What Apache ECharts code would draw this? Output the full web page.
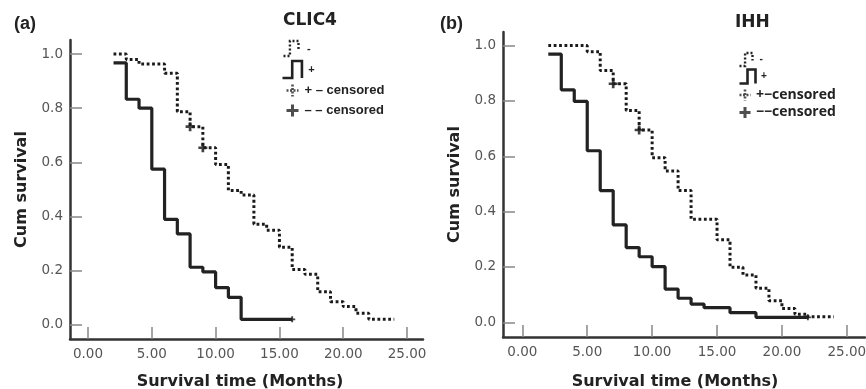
<!DOCTYPE html>
<html>
<head>
<meta charset="utf-8">
<script src="https://cdn.jsdelivr.net/npm/echarts@6/dist/echarts.min.js"></script>
<style>html,body{margin:0;padding:0;background:#fff}#c{width:866px;height:389px}</style>
</head>
<body>
<div id="c"></div>
<script>
// ---- data ----
const xTicks = [0, 5, 10, 15, 20, 25];
const yTicks = [0, 0.2, 0.4, 0.6, 0.8, 1.0];

// Panel (a) CLIC4
const timeA_neg = [2, 3, 4, 6, 7, 8, 9, 10, 11, 12, 13, 14, 15, 16, 17, 18, 19, 20, 21, 22, 24];
const survA_neg = [1.0, 0.98, 0.963, 0.929, 0.787, 0.732, 0.654, 0.592, 0.496, 0.48, 0.372, 0.35, 0.287, 0.205, 0.187, 0.123, 0.086, 0.068, 0.043, 0.021, 0.021];
const timeA_pos = [2, 3, 4, 5, 6, 7, 8, 9, 10, 11, 12, 16];
const survA_pos = [0.967, 0.833, 0.80, 0.575, 0.39, 0.336, 0.213, 0.196, 0.138, 0.102, 0.021, 0.021];
const censA_negT = [8, 9];
const censA_negS = [0.732, 0.654];
const censA_posT = [16];
const censA_posS = [0.021];

// Panel (b) IHH
const timeB_neg = [2, 5, 6, 7, 8, 9, 10, 11, 12, 13, 15, 16, 17, 18, 19, 20, 21, 22, 24];
const survB_neg = [1.0, 0.978, 0.91, 0.862, 0.765, 0.695, 0.595, 0.547, 0.476, 0.372, 0.298, 0.199, 0.171, 0.123, 0.078, 0.05, 0.029, 0.02, 0.02];
const timeB_pos = [2, 3, 4, 5, 6, 7, 8, 9, 10, 11, 12, 13, 14, 16, 18, 22];
const survB_pos = [0.969, 0.84, 0.798, 0.62, 0.476, 0.352, 0.27, 0.237, 0.201, 0.12, 0.087, 0.066, 0.053, 0.035, 0.018, 0.018];
const censB_negT = [7, 9];
const censB_negS = [0.862, 0.695];
const censB_posT = [22];
const censB_posS = [0.018];

// ---- chart ----
const zip = (t, s) => t.map((v, i) => [v, s[i]]);
const INK = '#222';
const PLUS = 'path://M3.5,0H6.5V3.5H10V6.5H6.5V10H3.5V6.5H0V3.5H3.5Z';

function mkX(idx, min, max, gap, pad) {
  return {
    type: 'value', gridIndex: idx, min: min, max: max,
    axisLine: { onZero: false, lineStyle: { color: '#333', width: 2.5 } },
    axisTick: { inside: true, length: 12, customValues: xTicks, lineStyle: { color: '#888', width: 1.5 } },
    axisLabel: { customValues: xTicks, formatter: v => v.toFixed(2), color: '#555', fontFamily: 'DejaVu Sans', fontSize: 13.5, margin: 8 },
    splitLine: { show: false },
    name: 'Survival time (Months)', nameLocation: 'middle', nameGap: gap,
    nameTextStyle: { fontWeight: 'bold', fontSize: 16, color: INK, fontFamily: 'DejaVu Sans', padding: pad }
  };
}
function mkY(idx, min, max, gap) {
  return {
    type: 'value', gridIndex: idx, min: min, max: max,
    axisLine: { show: true, onZero: false, lineStyle: { color: '#333', width: 2.5 } },
    axisTick: { show: true, inside: true, length: 12, customValues: yTicks, lineStyle: { color: '#888', width: 1.5 } },
    axisLabel: { customValues: yTicks, formatter: v => v.toFixed(1), color: '#555', fontFamily: 'DejaVu Sans', fontSize: 13.5, margin: 7 },
    splitLine: { show: false },
    name: 'Cum survival', nameLocation: 'middle', nameGap: gap,
    nameTextStyle: { fontWeight: 'bold', fontSize: 16, color: INK, fontFamily: 'DejaVu Sans' }
  };
}
function dotted(name, idx, data) {
  return { type: 'line', name: name, xAxisIndex: idx, yAxisIndex: idx, step: 'end', data: data,
    showSymbol: false, symbol: 'none', silent: true,
    lineStyle: { color: '#1a1a1a', width: 3, type: [2.8, 2.6], cap: 'butt' }, itemStyle: { color: INK } };
}
function solid(name, idx, data) {
  return { type: 'line', name: name, xAxisIndex: idx, yAxisIndex: idx, step: 'end', data: data,
    showSymbol: false, symbol: 'none', silent: true,
    lineStyle: { color: INK, width: 3.2 }, itemStyle: { color: INK } };
}
function cens(name, idx, data, size) {
  return { type: 'scatter', name: name, xAxisIndex: idx, yAxisIndex: idx, data: data,
    symbol: PLUS, symbolSize: size, silent: true, itemStyle: { color: '#111' } };
}
const ICON_DOT_STEP = 'path://M0,16L6,16L6,2L14,2L14,10';
const ICON_SOLID_STEP = 'path://M0,16L8,16L8,2L16,2L16,16';
const ICON_CROSS = 'path://M5,0L5,10M0,5L10,5';
function oneLegend(name, icon, style, left, centerY, w, h, textStyle) {
  return { orient: 'vertical', left: left, top: centerY - h / 2, padding: 0, itemWidth: w, itemHeight: h, selectedMode: false,
    textStyle: Object.assign({ fontFamily: 'Liberation Sans', fontWeight: 'bold', color: INK, fontSize: 13 }, textStyle),
    data: [{ name: name, icon: icon, itemStyle: style }] };
}
const stDot = { color: 'none', borderColor: INK, borderWidth: 2.4, borderType: [2, 2] };
const stSolid = { color: 'none', borderColor: INK, borderWidth: 2.6 };
const stCrossDot = { color: 'none', borderColor: INK, borderWidth: 2.6, borderType: [2, 1.5] };
const stCross = { color: 'none', borderColor: INK, borderWidth: 3 };

const chart = echarts.init(document.getElementById('c'), null, { renderer: 'canvas' });
const titleStyle = { fontSize: 18, fontWeight: 'bold', color: INK, fontFamily: 'Liberation Sans' };
chart.setOption({
  animation: false,
  backgroundColor: '#fff',
  title: [
    { text: '(a)', left: 14, top: 15, padding: 0, textStyle: titleStyle },
    { text: 'CLIC4', left: 283, top: 12, padding: 0, textStyle: Object.assign({}, titleStyle, { fontSize: 17, fontFamily: 'DejaVu Sans' }) },
    { text: '(b)', left: 440, top: 15, padding: 0, textStyle: titleStyle },
    { text: 'IHH', left: 735, top: 14, padding: 0, textStyle: Object.assign({}, titleStyle, { fontSize: 17, fontFamily: 'DejaVu Sans' }) }
  ],
  legend: [
    oneLegend('-', ICON_DOT_STEP, stDot, 281, 46, 22, 15, { fontSize: 11 }),
    oneLegend('+', ICON_SOLID_STEP, stSolid, 280, 67, 22, 17, { fontSize: 11 }),
    oneLegend('+ – censored', ICON_CROSS, stCrossDot, 284, 88, 14, 12, {}),
    oneLegend('– – censored', ICON_CROSS, stCross, 284, 108, 14, 12, {}),
    oneLegend('-', ICON_DOT_STEP, stDot, 737, 57, 17, 13, { fontSize: 10 }),
    oneLegend('+', ICON_SOLID_STEP, stSolid, 737, 74, 17, 14, { fontSize: 10 }),
    oneLegend('+−censored', ICON_CROSS, stCrossDot, 737, 92.5, 12, 11, { fontFamily: 'Open Sans', fontSize: 14 }),
    oneLegend('−−censored', ICON_CROSS, stCross, 737, 110, 12, 11, { fontFamily: 'Open Sans', fontSize: 14 })
  ],
  grid: [
    { left: 70, top: 40, width: 353, height: 299, outerBoundsMode: 'none' },
    { left: 503, top: 32, width: 362, height: 305, outerBoundsMode: 'none' }
  ],
  xAxis: [mkX(0, -1.41, 26.25, 35, [0, 13, 0, 0]), mkX(1, -1.49, 26.4, 37, [0, 18, 0, 0])],
  yAxis: [mkY(0, -0.0517, 1.0517, 40), mkY(1, -0.053, 1.049, 40)],
  series: [
    dotted('-', 0, zip(timeA_neg, survA_neg)),
    solid('+', 0, zip(timeA_pos, survA_pos)),
    cens('+ – censored', 0, zip(censA_negT, censA_negS), 9),
    cens('– – censored', 0, zip(censA_posT, censA_posS), 6),
    dotted('-', 1, zip(timeB_neg, survB_neg)),
    solid('+', 1, zip(timeB_pos, survB_pos)),
    cens('+−censored', 1, zip(censB_negT, censB_negS), 9),
    cens('−−censored', 1, zip(censB_posT, censB_posS), 6)
  ]
});
</script>
</body>
</html>
